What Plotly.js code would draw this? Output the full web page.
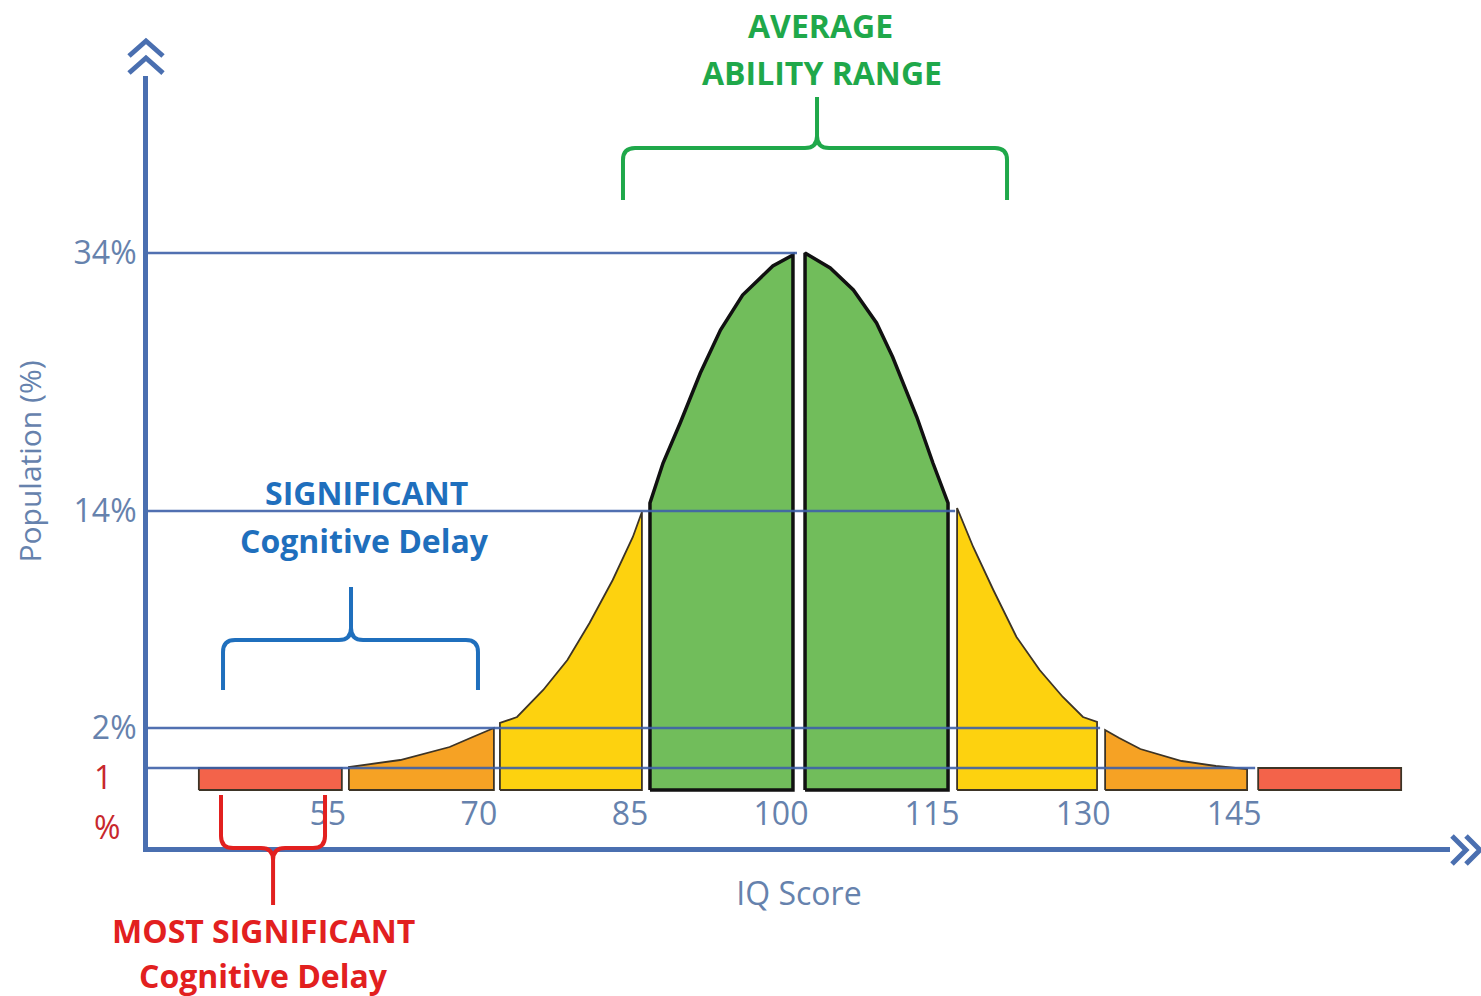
<!DOCTYPE html>
<html>
<head>
<meta charset="utf-8">
<script src="https://cdn.plot.ly/plotly-3.0.1.min.js"></script>
<style>html,body{margin:0;padding:0;background:#fff}#chart{width:1481px;height:996px}</style>
</head>
<body>
<div id="chart"></div>
<script>
// ---------- data ----------
// IQ band boundaries (x) and the band colours
const bandNames  = ['40–55', '55–70', '70–85', '85–100', '100–115', '115–130', '130–145', '145–160'];
const bandColors = ['#f3634a', '#f6a224', '#fdd20f', '#71bd5b', '#71bd5b', '#fdd20f', '#f6a224', '#f3634a'];
const bandBase   = 60;   // bottom of every band (display height)

// Top edge of each band: IQ positions and display heights
const redLowX     = [40.4, 54.6];
const redLowY     = [82, 82];
const orangeLowX  = [55.3, 60.4, 65.3, 67.6, 69.7];
const orangeLowY  = [83, 90, 103, 113, 122];
const yellowLowX  = [70.3, 72.0, 74.6, 77.0, 79.2, 81.5, 83.5, 84.4];
const yellowLowY  = [127, 133, 160, 190, 227, 270, 313, 338];
const greenLowX   = [85.2, 86.5, 88.2, 90.2, 92.2, 94.4, 97.4, 99.4];
const greenLowY   = [347, 387, 427, 477, 520, 555, 584, 595];
const greenHighX  = [100.6, 103.1, 105.4, 107.7, 109.3, 111.7, 113.3, 114.8];
const greenHighY  = [597, 582, 560, 527, 493, 433, 387, 347];
const yellowHighX = [115.7, 117.3, 119.3, 121.6, 123.9, 126.2, 128.2, 129.6];
const yellowHighY = [342, 303, 260, 213, 180, 153, 133, 128];
const orangeHighX = [130.4, 131.8, 133.9, 138.0, 141.4, 144.5];
const orangeHighY = [120, 112, 101, 89, 84, 81];
const redHighX    = [145.6, 159.8];
const redHighY    = [82, 82];

// Population levels (y ticks and guide lines)
const levelLabels  = ['34%', '14%', '2%'];
const levelHeights = [597, 339, 122];
const guideHeights = [597, 339, 122, 82];
const guideEnds    = [99.8, 115.5, 129.9, 145.3];

// IQ tick labels
const iqTicks = [55, 70, 85, 100, 115, 130, 145];

// ---------- scales ----------
const XR = [35.35, 164.65];
const YR = [3, 774];
const toPX = v => (v - XR[0]) / (XR[1] - XR[0]);
const toPY = v => (v - YR[0]) / (YR[1] - YR[0]);
// pixel helpers for decorations
const L = 148, R = 1450, T = 76, B = 847;
const pxX = p => (p - L) / (R - L);
const pxY = p => (B - p) / (B - T);

const AXIS = '#4a6fb0';
const TXT = '#6682ad';
const FONT = '"Open Sans", "Noto Sans", sans-serif';

const bandsX = [redLowX, orangeLowX, yellowLowX, greenLowX, greenHighX, yellowHighX, orangeHighX, redHighX];
const bandsY = [redLowY, orangeLowY, yellowLowY, greenLowY, greenHighY, yellowHighY, orangeHighY, redHighY];

const traces = [];
bandsX.forEach((xs, i) => {
  const ys = bandsY[i];
  const first = xs[0], last = xs[xs.length - 1];
  const isGreen = i === 3 || i === 4;
  traces.push({
    type: 'scatter', mode: 'lines', name: 'IQ ' + bandNames[i],
    x: [first].concat(xs, [last, first]),
    y: [bandBase].concat(ys, [bandBase, bandBase]),
    fill: 'toself', fillcolor: bandColors[i],
    line: {color: isGreen ? '#111111' : '#3d3426', width: isGreen ? 3.5 : 1.8},
    hoverinfo: 'skip', showlegend: false
  });
});
guideHeights.forEach((h, i) => {
  traces.push({
    type: 'scatter', mode: 'lines',
    x: [XR[0], guideEnds[i]], y: [h, h],
    line: {color: 'rgba(62,96,168,0.9)', width: 2.5},
    hoverinfo: 'skip', showlegend: false
  });
});

function bracePath(x0, x1, xc, base, bar, tip) {
  const d = Math.sign(tip - bar);
  const rx = 1.2, ry = 12;
  const P = (x, y) => toPX(x).toFixed(5) + ',' + toPY(y).toFixed(5);
  return 'M' + P(x0, base) + ' L' + P(x0, bar - d * ry) + ' Q' + P(x0, bar) + ' ' + P(x0 + rx, bar) +
    ' L' + P(xc - rx, bar) + ' Q' + P(xc, bar) + ' ' + P(xc, bar + d * ry) + ' L' + P(xc, tip) +
    ' M' + P(xc, bar + d * ry) + ' Q' + P(xc, bar) + ' ' + P(xc + rx, bar) +
    ' L' + P(x1 - rx, bar) + ' Q' + P(x1, bar) + ' ' + P(x1, bar - d * ry) + ' L' + P(x1, base);
}
function pxPath(pts) {
  return pts.map((seg) => seg.map((p, j) => (j === 0 ? 'M' : 'L') + pxX(p[0]).toFixed(5) + ',' + pxY(p[1]).toFixed(5)).join(' ')).join(' ');
}

const GREEN = '#1fa84a', BLUE = '#1f6fbd', RED = '#e2201f';
const shapes = [
  {type: 'path', xref: 'paper', yref: 'paper', layer: 'above', path: bracePath(82.52, 120.66, 101.79, 650, 702, 753), line: {color: GREEN, width: 4}},
  {type: 'path', xref: 'paper', yref: 'paper', layer: 'above', path: bracePath(42.80, 68.12, 55.51, 160, 210, 263), line: {color: BLUE, width: 4}},
  {type: 'path', xref: 'paper', yref: 'paper', layer: 'above', path: bracePath(42.60, 52.93, 47.77, 55, 2, -55), line: {color: RED, width: 4}},
  {type: 'path', xref: 'paper', yref: 'paper', layer: 'above',
   path: pxPath([[[129, 56], [146, 41], [163, 56]], [[129, 73], [146, 58], [163, 73]]]),
   line: {color: AXIS, width: 5}},
  {type: 'path', xref: 'paper', yref: 'paper', layer: 'above',
   path: pxPath([[[1452, 836], [1466, 850], [1452, 864]], [[1466, 836], [1480, 850], [1466, 864]]]),
   line: {color: AXIS, width: 5}}
];

const bold = (c) => ({family: FONT, size: 32, color: c, weight: 700});
const ann = (text, x, y, font) => ({text: text, xref: 'paper', yref: 'paper', x: pxX(x), y: pxY(y),
  xanchor: 'center', yanchor: 'middle', showarrow: false, font: font});
const annotations = [
  ann('<b>AVERAGE</b>', 820, 25, bold(GREEN)),
  ann('<b>ABILITY RANGE</b>', 822, 72, bold(GREEN)),
  ann('<b>SIGNIFICANT</b>', 366, 492, bold(BLUE)),
  ann('<b>Cognitive Delay</b>', 364, 540, bold(BLUE)),
  ann('<b>MOST SIGNIFICANT</b>', 263, 930, bold(RED)),
  ann('<b>Cognitive Delay</b>', 263, 975, bold(RED)),
  ann('1', 103, 776, {family: FONT, size: 32, color: '#c8272d'}),
  ann('%', 107, 826, {family: FONT, size: 32, color: '#c8272d'})
];

const layout = {
  width: 1481, height: 996,
  margin: {l: L, r: 1481 - R, t: T, b: 996 - B, pad: 0},
  paper_bgcolor: '#ffffff', plot_bgcolor: '#ffffff',
  showlegend: false, hovermode: false,
  font: {family: FONT, color: TXT},
  xaxis: {
    range: XR, showgrid: false, zeroline: false, fixedrange: true,
    showline: true, linecolor: AXIS, linewidth: 5,
    tickvals: iqTicks, ticktext: iqTicks.map(String), ticks: '',
    ticklabelposition: 'inside', ticklabelshift: -18, ticklabelstandoff: 19,
    tickfont: {family: FONT, size: 32, color: TXT},
    title: {text: 'IQ Score', standoff: 51, font: {family: FONT, size: 32, color: TXT}}
  },
  yaxis: {
    range: YR, showgrid: false, zeroline: false, fixedrange: true,
    showline: true, linecolor: AXIS, linewidth: 5,
    tickvals: levelHeights, ticktext: levelLabels, ticks: '',
    tickfont: {family: FONT, size: 32, color: TXT},
    title: {text: 'Population (%)', standoff: 25, font: {family: FONT, size: 30, color: TXT}}
  },
  shapes: shapes,
  annotations: annotations
};

Plotly.newPlot('chart', traces, layout, {displayModeBar: false, staticPlot: true});
</script>
</body>
</html>
